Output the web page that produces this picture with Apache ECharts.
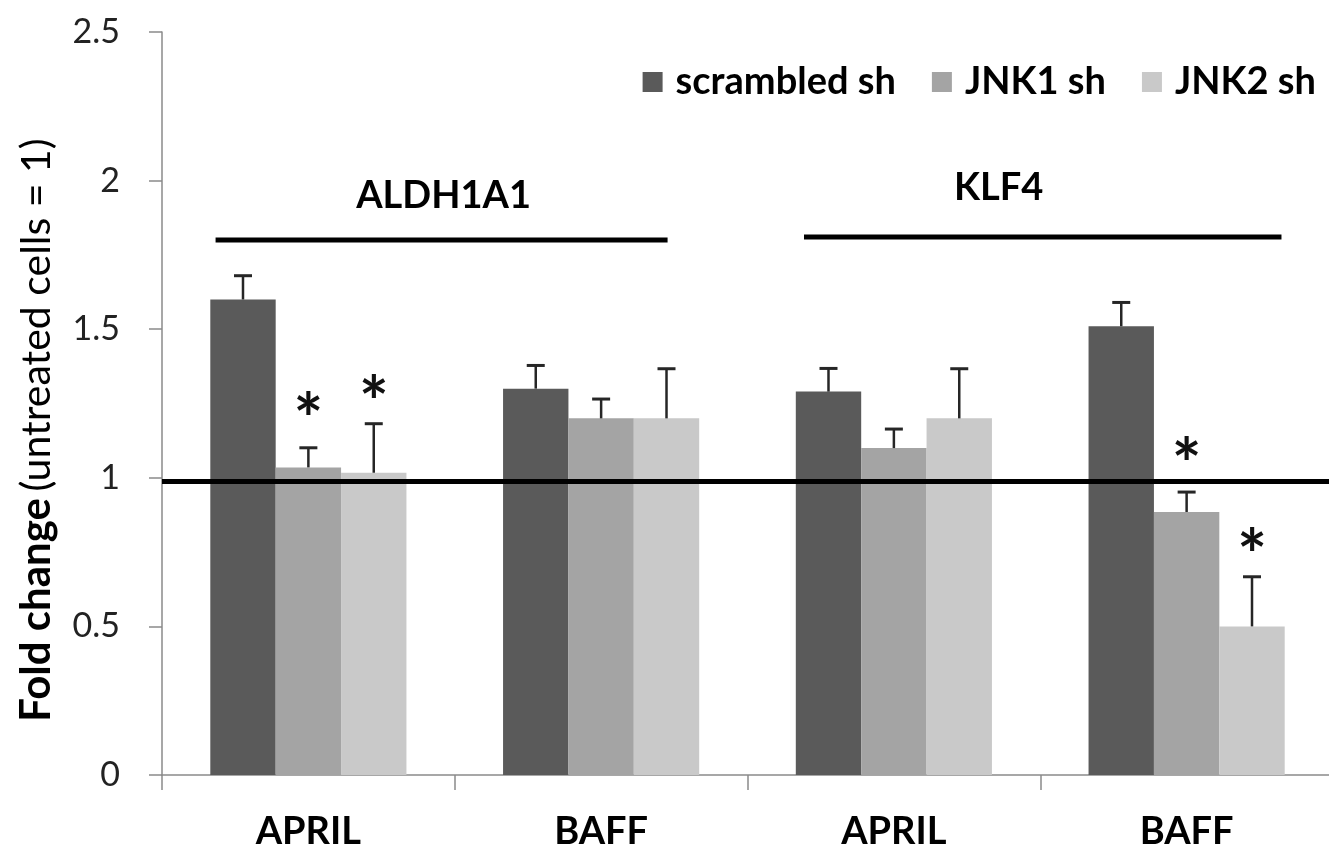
<!DOCTYPE html>
<html><head><meta charset="utf-8">
<script src="https://cdn.jsdelivr.net/npm/echarts@6/dist/echarts.min.js"></script>
<style>html,body{margin:0;padding:0;background:#fff}#c{width:1329px;height:847px}</style>
</head><body><div id="c"></div>
<script>
// ---- data ----
const categories = ['APRIL', 'BAFF', 'APRIL', 'BAFF'];
const seriesNames = ['scrambled sh', 'JNK1 sh', 'JNK2 sh'];
const scrambled = [1.60, 1.30, 1.29, 1.51];
const jnk1 = [1.035, 1.20, 1.10, 0.885];
const jnk2 = [1.017, 1.20, 1.20, 0.50];
const scrambledErr = [0.08, 0.078, 0.078, 0.08];
const jnk1Err = [0.066, 0.065, 0.064, 0.067];
const jnk2Err = [0.165, 0.167, 0.167, 0.167];
const scrambledStars = ['', '', '', ''];
const jnk1Stars = ['*', '', '', '*'];
const jnk2Stars = ['*', '', '', '*'];
const groupLabels = ['ALDH1A1', 'KLF4'];
const groupFrom = [0, 2];
const groupTo = [1, 3];
const groupLevel = [1.80, 1.81];
const referenceLevel = [0.99];
const yTicks = [0, 0.5, 1, 1.5, 2, 2.5];

// ---- styles ----
const colors = ['#5a5a5a', '#a4a4a4', '#c9c9c9'];
const FONT = 'Lato';
const CAT_GAP = 0.33;
const spanLeft = [-0.317, -0.307];
const spanRight = [0.227, 0.324];
const textShift = [2, -44];
const textRise = [44, 49];
const starRise = [0, 45, 38];

const values = [scrambled, jnk1, jnk2];
const errs = [scrambledErr, jnk1Err, jnk2Err];
const stars = [scrambledStars, jnk1Stars, jnk2Stars];

function errRenderer(k) {
  return function (params, api) {
    const cat = api.value(0), v = api.value(1), e = api.value(2);
    const band = api.size([1, 0])[0];
    const bw = band * (1 - CAT_GAP) / 3;
    const cx = api.coord([cat, 0])[0] + (k - 1) * bw;
    const yTop = api.coord([cat, v])[1];
    const yCap = api.coord([cat, v + e])[1];
    const children = [
      {type: 'line', shape: {x1: cx, y1: yTop, x2: cx, y2: yCap}, style: {stroke: '#262626', lineWidth: 2.5}},
      {type: 'line', shape: {x1: cx - 9, y1: yCap, x2: cx + 9, y2: yCap}, style: {stroke: '#262626', lineWidth: 3}}
    ];
    const s = stars[k][params.dataIndex];
    if (s) {
      children.push({type: 'text', x: cx, y: yCap - starRise[k] + 20, style: {text: s, fill: '#111', font: 'bold 70px ' + FONT, align: 'center', verticalAlign: 'middle'}});
    }
    return {type: 'group', children: children};
  };
}

const series = [];
for (let k = 0; k < 3; k++) {
  const s = {
    name: seriesNames[k], type: 'bar', data: values[k],
    barGap: '0%', barCategoryGap: (CAT_GAP * 100) + '%',
    itemStyle: {color: colors[k]}, z: 2
  };
  if (k === 0) {
    s.markLine = {
      silent: true, symbol: 'none', label: {show: false},
      lineStyle: {color: '#000', width: 5, type: 'solid'},
      data: referenceLevel.map(v => ({yAxis: v})), z: 5
    };
  }
  series.push(s);
}
for (let k = 0; k < 3; k++) {
  series.push({
    type: 'custom', renderItem: errRenderer(k), z: 4, silent: true,
    data: categories.map((c, i) => [i, values[k][i], errs[k][i]])
  });
}
series.push({
  type: 'custom', z: 4, silent: true,
  renderItem: function (params, api) {
    const i = params.dataIndex;
    const band = api.size([1, 0])[0];
    const x1 = api.coord([api.value(0), 0])[0] + spanLeft[i] * band;
    const x2 = api.coord([api.value(1), 0])[0] + spanRight[i] * band;
    const y = api.coord([0, api.value(2)])[1];
    return {type: 'group', children: [
      {type: 'line', shape: {x1: x1, y1: y, x2: x2, y2: y}, style: {stroke: '#000', lineWidth: 5}},
      {type: 'text', x: (x1 + x2) / 2 + textShift[i], y: y - textRise[i],
       style: {text: groupLabels[i], fill: '#000', font: 'bold 38px ' + FONT, align: 'center', verticalAlign: 'middle'}}
    ]};
  },
  data: groupLabels.map((g, i) => [groupFrom[i], groupTo[i], groupLevel[i]])
});

const chart = echarts.init(document.getElementById('c'), null, {renderer: 'canvas'});
chart.setOption({
  animation: false,
  backgroundColor: '#fff',
  grid: {left: 162, right: -4, top: 32, bottom: 72, containLabel: false, outerBoundsMode: 'none'},
  legend: {
    data: seriesNames, right: 8, top: 58, icon: 'rect',
    itemWidth: 20, itemHeight: 20, itemGap: 36,
    textStyle: {fontFamily: FONT, fontWeight: 'bold', fontSize: 38, color: '#000', padding: [0, 0, 0, 8]}
  },
  xAxis: {
    type: 'category', data: categories,
    axisLine: {lineStyle: {color: '#8a8a8a', width: 1.5}},
    axisTick: {show: true, length: 15, lineStyle: {color: '#8a8a8a', width: 1.5}},
    axisLabel: {fontFamily: FONT, fontWeight: 'bold', fontSize: 38, color: '#000', margin: 38}
  },
  yAxis: {
    type: 'value', min: yTicks[0], max: yTicks[yTicks.length - 1], interval: yTicks[1] - yTicks[0],
    axisLine: {show: true, lineStyle: {color: '#8a8a8a', width: 1.5}},
    axisTick: {show: true, length: 13, lineStyle: {color: '#8a8a8a', width: 1.5}},
    splitLine: {show: false},
    axisLabel: {fontFamily: FONT, fontSize: 34, color: '#222', margin: 42}
  },
  graphic: [{
    type: 'text', x: 36, y: 430, rotation: Math.PI / 2,
    style: {
      text: '{b|Fold change}  {n|(untreated cells = 1)}',
      align: 'center', verticalAlign: 'middle',
      rich: {
        b: {fontFamily: FONT, fontWeight: 'bold', fontSize: 42, fill: '#000', verticalAlign: 'bottom'},
        n: {fontFamily: FONT, fontSize: 41, fill: '#000', verticalAlign: 'bottom'}
      }
    }
  }],
  series: series
});
</script>
</body></html>
